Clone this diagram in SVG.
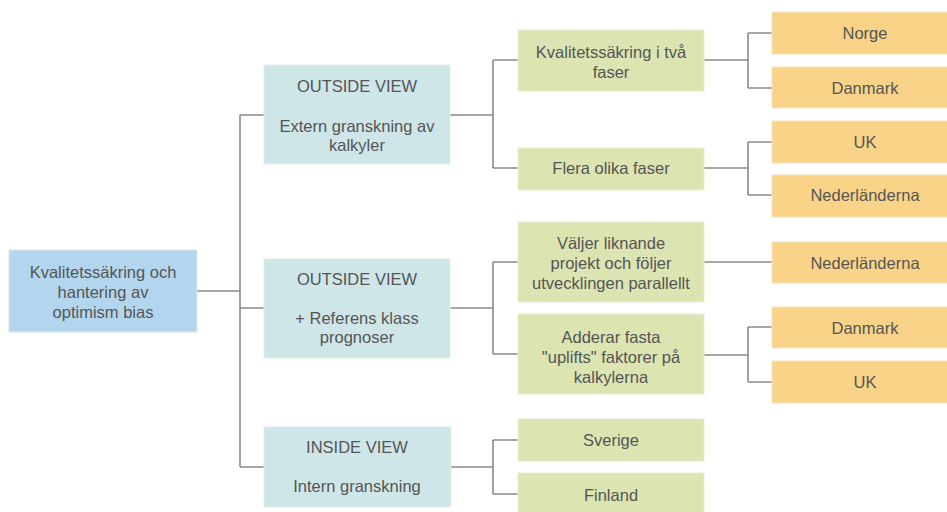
<svg xmlns="http://www.w3.org/2000/svg" width="947" height="512" viewBox="0 0 947 512">
<style>
.root{fill:#b3d6ee;stroke:#d8e6ee;stroke-width:1}
.view{fill:#cfe6e9;stroke:#e2eeef;stroke-width:1}
.grn{fill:#dce4b2;stroke:#e8ecd2;stroke-width:1}
.org{fill:#f9d388;stroke:#f5e3c0;stroke-width:1}
text{font-family:"Liberation Sans",Arial,sans-serif;font-size:16.5px;fill:#555;text-anchor:middle;dominant-baseline:central}
.c{fill:none;stroke:#8a8a8a;stroke-width:1.6}
</style>
<rect width="947" height="512" fill="#fff"/>
<g id="connectors">
<path class="c" d="M197 291H240M240 115V467M240 115H264M240 308H264M240 467H264"/>
<path class="c" d="M450 115H493M493 60V168M493 60H518M493 168H518"/>
<path class="c" d="M450 308H493M493 262V354M493 262H518M493 354H518"/>
<path class="c" d="M451 467H493M493 440V494M493 440H518M493 494H518"/>
<path class="c" d="M704 60H748M748 33V88M748 33H772M748 88H772"/>
<path class="c" d="M704 168H748M748 142V195M748 142H772M748 195H772"/>
<path class="c" d="M704 262H772"/>
<path class="c" d="M704 355H748M748 327V382M748 327H772M748 382H772"/>
</g>
<g id="root"><rect class="root" x="9" y="250" width="188" height="82"/>
<text x="103" y="272">Kvalitetssäkring och</text><text x="103" y="292">hantering av</text><text x="103" y="312">optimism bias</text></g>
<g id="ov1"><rect class="view" x="264" y="65" width="186" height="99"/>
<text x="357" y="86">OUTSIDE VIEW</text><text x="357" y="126">Extern granskning av</text><text x="357" y="145">kalkyler</text></g>
<g id="ov2"><rect class="view" x="264" y="259" width="186" height="99"/>
<text x="357" y="279">OUTSIDE VIEW</text><text x="357" y="318">+ Referens klass</text><text x="357" y="337">prognoser</text></g>
<g id="iv"><rect class="view" x="264" y="427" width="187" height="80"/>
<text x="357" y="447">INSIDE VIEW</text><text x="357" y="486">Intern granskning</text></g>
<g id="g1"><rect class="grn" x="518" y="30" width="186" height="61"/>
<text x="611" y="52">Kvalitetssäkring i två</text><text x="611" y="72">faser</text></g>
<g id="g2"><rect class="grn" x="518" y="148" width="186" height="42"/>
<text x="611" y="168">Flera olika faser</text></g>
<g id="g3"><rect class="grn" x="518" y="222" width="186" height="80"/>
<text x="611" y="243">Väljer liknande</text><text x="611" y="263">projekt och följer</text><text x="611" y="283">utvecklingen parallellt</text></g>
<g id="g4"><rect class="grn" x="518" y="314" width="186" height="80"/>
<text x="611" y="337">Adderar fasta</text><text x="611" y="357">"uplifts" faktorer på</text><text x="611" y="377">kalkylerna</text></g>
<g id="g5"><rect class="grn" x="518" y="419" width="186" height="42"/>
<text x="611" y="440">Sverige</text></g>
<g id="g6"><rect class="grn" x="518" y="473" width="186" height="44"/>
<text x="611" y="495">Finland</text></g>
<g id="o1"><rect class="org" x="772" y="12" width="176" height="42"/><text x="865" y="33">Norge</text></g>
<g id="o2"><rect class="org" x="772" y="67" width="176" height="41"/><text x="865" y="88">Danmark</text></g>
<g id="o3"><rect class="org" x="772" y="121" width="176" height="42"/><text x="865" y="142">UK</text></g>
<g id="o4"><rect class="org" x="772" y="175" width="176" height="42"/><text x="865" y="195">Nederländerna</text></g>
<g id="o5"><rect class="org" x="772" y="242" width="176" height="41"/><text x="865" y="263">Nederländerna</text></g>
<g id="o6"><rect class="org" x="772" y="307" width="176" height="41"/><text x="865" y="328">Danmark</text></g>
<g id="o7"><rect class="org" x="772" y="361" width="176" height="42"/><text x="865" y="382">UK</text></g>
</svg>
